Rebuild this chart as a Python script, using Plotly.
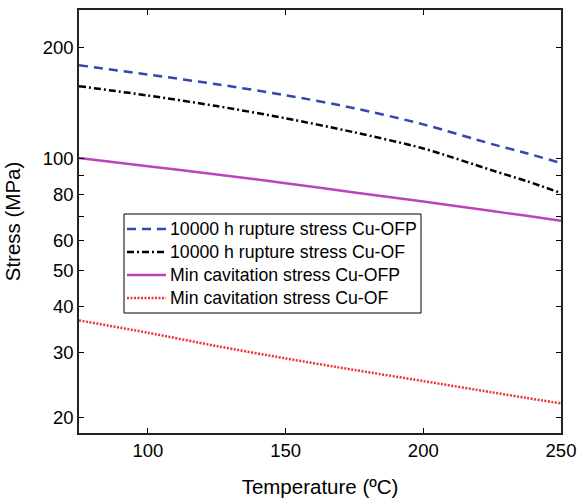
import plotly.graph_objects as go

temperature = [75, 100, 125, 150, 175, 200, 225, 237.5, 250]
rupture_ofp = [178.9, 168.7, 158.9, 148.4, 136.9, 123.8, 109.5, 103.5, 97.3]
rupture_of = [157.0, 148.1, 138.7, 128.6, 117.8, 106.6, 93.0, 87.0, 80.8]
cavitation_ofp = [100.4, 95.4, 90.7, 85.9, 81.1, 76.6, 72.2, 70.1, 68.0]
cavitation_of = [36.6, 33.9, 31.2, 28.9, 26.9, 25.1, 23.4, 22.6, 21.85]

y_tickvals = [20, 30, 40, 50, 60, 70, 80, 90, 100, 200]
y_ticktext = ["20", "30", "40", "50", "60", "", "80", "", "100", "200"]
x_tickvals = [100, 150, 200, 250]

names = [
    "10000 h rupture stress Cu-OFP",
    "10000 h rupture stress Cu-OF",
    "Min cavitation stress Cu-OFP",
    "Min cavitation stress Cu-OF",
]
colors = ["#3446B0", "#000000", "#BB44BB", "#EE3333"]
dashes = ["9px,6px", "7px,3px,2px,3px", "solid", "2px,1.5px"]
series = [rupture_ofp, rupture_of, cavitation_ofp, cavitation_of]

FONT = "Arial, Liberation Sans, sans-serif"
W, H = 577, 498
ML, MR, MT, MB = 79, 16, 10, 65
PW, PH = W - ML - MR, H - MT - MB


def px_x(px):
    return (px - ML) / PW


def px_y(py):
    return (H - MB - py) / PH


fig = go.Figure()
for name, ys, c, d in zip(names, series, colors, dashes):
    fig.add_trace(go.Scatter(x=temperature, y=ys, mode="lines", name=name,
                             line=dict(color=c, width=2.5, dash=d, shape="spline", smoothing=0.8),
                             hoverinfo="skip"))

# legend drawn manually (box, sample lines, labels)
shapes = [dict(type="rect", xref="paper", yref="paper",
               x0=px_x(124), x1=px_x(421), y0=px_y(214), y1=px_y(313),
               line=dict(color="black", width=1), fillcolor="white", layer="above")]
annotations = []
legend_rows = [229, 252, 275, 298]
for name, c, d, row in zip(names, colors, dashes, legend_rows):
    shapes.append(dict(type="line", xref="paper", yref="paper",
                       x0=px_x(127), x1=px_x(166), y0=px_y(row), y1=px_y(row),
                       line=dict(color=c, width=2.5, dash=d), layer="above"))
    annotations.append(dict(text=name, xref="paper", yref="paper",
                            x=px_x(168), y=px_y(row), xanchor="left", yanchor="middle",
                            showarrow=False,
                            font=dict(family=FONT, size=17.7, color="black")))

fig.update_layout(
    width=W, height=H,
    margin=dict(l=ML, r=MR, t=MT, b=MB, autoexpand=False),
    paper_bgcolor="white", plot_bgcolor="white",
    font=dict(family=FONT, color="black", size=18),
    showlegend=False,
    shapes=shapes,
    annotations=annotations,
    xaxis=dict(
        range=[75, 250], tickvals=x_tickvals, automargin=False,
        ticks="inside", ticklen=5, tickwidth=1, tickcolor="black",
        showline=True, linecolor="#222222", linewidth=1.5, mirror="ticks",
        showgrid=False, zeroline=False,
        tickfont=dict(family=FONT, size=18.5, color="black"),
        title=dict(text="Temperature (ºC)", font=dict(family=FONT, size=20.5, color="black"), standoff=20),
    ),
    yaxis=dict(
        type="log", range=[1.2595, 2.4015], automargin=False,
        tickvals=y_tickvals, ticktext=y_ticktext,
        ticks="inside", ticklen=5, tickwidth=1, tickcolor="black",
        showline=True, linecolor="#222222", linewidth=1.5, mirror="ticks",
        showgrid=False, zeroline=False,
        tickfont=dict(family=FONT, size=18.5, color="black"),
        title=dict(text="Stress (MPa)", font=dict(family=FONT, size=20.5, color="black"), standoff=16),
    ),
)

fig.write_html("out.html", config={"displayModeBar": False},
               post_script="document.body.style.margin='0';document.body.style.overflow='hidden';")
